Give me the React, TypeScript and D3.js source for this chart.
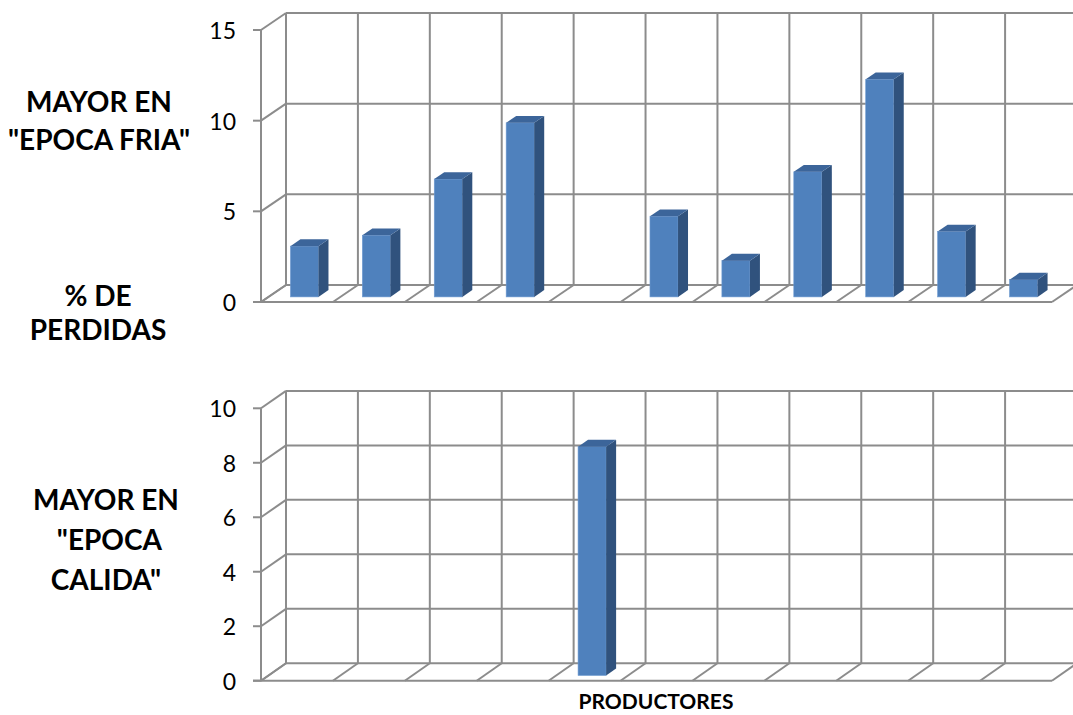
import React from "react";
import * as d3 from "d3";

const categories = ["P1", "P2", "P3", "P4", "P5", "P6", "P7", "P8", "P9", "P10", "P11"];
const valuesFria: (number | null)[] = [2.8, 3.4, 6.5, 9.6, null, 4.45, 2.0, 6.9, 12.0, 3.6, 0.95];
const valuesCalida: (number | null)[] = [null, null, null, null, 8.4, null, null, null, null, null, null];
const ticksFria = [0, 5, 10, 15];
const ticksCalida = [0, 2, 4, 6, 8, 10];
const labelsFria = ["MAYOR EN", "\"EPOCA FRIA\""];
const labelsMid = ["% DE", "PERDIDAS"];
const labelsCalida = ["MAYOR EN", " \"EPOCA", "CALIDA\""];
const xTitle = "PRODUCTORES";

const GRID = "#8c8c8c";
const FRONT = "#4f81bd";
const SIDE = "#30527d";
const TOP = "#3c659a";
const FONT = "Lato, 'Open Sans', sans-serif";

type PanelProps = {
  values: (number | null)[];
  ticks: number[];
  floorY: number;
  topY: number;
  ddx: number;
  ddy: number;
};

function Panel({ values, ticks, floorY, topY, ddx, ddy }: PanelProps) {
  const x0 = 261;
  const x1 = 1052;
  const max = ticks[ticks.length - 1];
  const y = d3.scaleLinear().domain([0, max]).range([floorY, topY]);
  const x = d3.scaleBand<string>().domain(categories).range([x0, x1]).paddingInner(0).paddingOuter(0);
  const bw = x.bandwidth();
  const boundaries = categories.map((c) => x(c) as number).concat([x1]);
  const barFrac = 0.39;
  const f1 = 0.3;
  const f2 = 0.7;
  const barW = bw * barFrac;

  return (
    <g>
      {ticks.map((t) => (
        <g key={"t" + t}>
          <line x1={x0 + ddx} x2={x1 + ddx} y1={y(t) + ddy} y2={y(t) + ddy} stroke={GRID} strokeWidth={2} />
          <line x1={x0} x2={x0 + ddx} y1={y(t)} y2={y(t) + ddy} stroke={GRID} strokeWidth={2} />
          <line x1={x0 - 8} x2={x0} y1={y(t)} y2={y(t)} stroke={GRID} strokeWidth={2} />
          <text x={236} y={y(t) + 9} textAnchor="end" fontFamily={FONT} fontSize={23} fill="#000">
            {t}
          </text>
        </g>
      ))}
      {boundaries.map((bx, i) => (
        <line key={"v" + i} x1={bx + ddx} x2={bx + ddx} y1={y(max) + ddy} y2={y(0) + ddy} stroke={GRID} strokeWidth={2} />
      ))}
      {boundaries.map((bx, i) => (
        <line key={"d" + i} x1={bx} x2={bx + ddx} y1={y(0)} y2={y(0) + ddy} stroke={GRID} strokeWidth={2} />
      ))}
      <line x1={x0} x2={x0} y1={y(max)} y2={y(0)} stroke={GRID} strokeWidth={2} />
      <line x1={x0 - 8} x2={x1} y1={y(0)} y2={y(0)} stroke={GRID} strokeWidth={2} />
      {categories.map((c, i) => {
        const v = values[i];
        if (v === null || v === undefined) return null;
        const cx = (x(c) as number) + bw / 2;
        const fx = cx - barW / 2 + ddx * f1;
        const fb = y(0) + ddy * f1;
        const ft = y(v) + ddy * f1;
        const dx = ddx * (f2 - f1);
        const dy = ddy * (f2 - f1);
        const fr = fx + barW;
        return (
          <g key={"b" + c}>
            <rect x={fx} y={ft} width={barW} height={fb - ft} fill={FRONT} stroke="#6f9bd1" strokeWidth={0.6} />
            <path d={`M${fr},${ft} L${fr + dx},${ft + dy} L${fr + dx},${fb + dy} L${fr},${fb} Z`} fill={SIDE} />
            <path d={`M${fx},${ft} L${fx + dx},${ft + dy} L${fr + dx},${ft + dy} L${fr},${ft} Z`} fill={TOP} />
          </g>
        );
      })}
    </g>
  );
}

export default function App() {
  const bold = { fontFamily: FONT, fontWeight: 700 as const, fill: "#000" };
  return (
    <svg width={1073} height={715} style={{ position: "absolute", left: 0, top: 0, display: "block", background: "#fff" }}>
      <rect width={1073} height={715} fill="#fff" />
      <Panel values={valuesFria} ticks={ticksFria} floorY={302} topY={30} ddx={25} ddy={-17} />
      <Panel values={valuesCalida} ticks={ticksCalida} floorY={680.7} topY={408.3} ddx={25} ddy={-17.4} />
      {labelsFria.map((l, i) => (
        <text key={"lf" + i} x={99} y={112 + i * 38} textAnchor="middle" fontSize={28} {...bold} style={{ whiteSpace: "pre" }}>
          {l}
        </text>
      ))}
      {labelsMid.map((l, i) => (
        <text key={"lm" + i} x={98} y={306 + i * 34} textAnchor="middle" fontSize={28} {...bold}>
          {l}
        </text>
      ))}
      {labelsCalida.map((l, i) => (
        <text key={"lc" + i} x={106} y={510 + i * 40} textAnchor="middle" fontSize={28} {...bold} style={{ whiteSpace: "pre" }}>
          {l}
        </text>
      ))}
      <text x={656} y={709} textAnchor="middle" fontSize={21} {...bold}>
        {xTitle}
      </text>
    </svg>
  );
}
